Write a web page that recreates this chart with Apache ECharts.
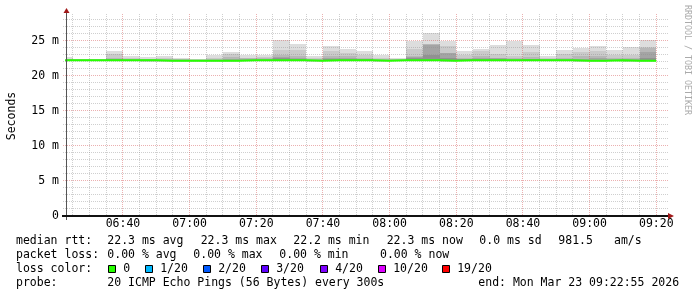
<!DOCTYPE html>
<html>
<head>
<meta charset="utf-8">
<script src="https://cdn.jsdelivr.net/npm/echarts@6.0.0/dist/echarts.min.js"></script>
<style>
html,body{margin:0;padding:0;background:#ffffff;}
#chart{width:697px;height:297px;}
</style>
</head>
<body>
<div id="chart"></div>
<script>
// ---------------- data ----------------
const startClock = '06:22:55';
const endClock = '09:22:55';
const stepSeconds = 300;
const yMax = 28.57;

const stepStarts = ['06:20','06:25','06:30','06:35','06:40','06:45','06:50','06:55','07:00','07:05',
  '07:10','07:15','07:20','07:25','07:30','07:35','07:40','07:45','07:50','07:55',
  '08:00','08:05','08:10','08:15','08:20','08:25','08:30','08:35','08:40','08:45',
  '08:50','08:55','09:00','09:05','09:10','09:15'];

// median rtt (ms) per 5-minute step
const medianRtt = [22.26,22.26,22.26,22.26,22.26,22.26,22.16,22.16,22.16,22.16,
  22.16,22.26,22.26,22.26,22.26,22.16,22.26,22.26,22.26,22.16,
  22.26,22.26,22.26,22.16,22.26,22.26,22.26,22.26,22.26,22.26,
  22.26,22.16,22.16,22.26,22.16,22.16];

// smoke: sorted ping values (ms), outermost to innermost
const pingMax = [22.65,22.45,22.45,23.62,22.81,22.66,22.81,22.57,22.45,22.95,
  23.43,23.0,23.0,25.14,24.57,22.81,24.28,23.9,23.57,23.0,
  22.55,24.95,26.14,24.95,23.57,23.9,24.43,24.95,24.43,22.81,
  23.76,24.05,24.33,23.71,24.14,25.14];
const ping19 = [22.45,22.38,22.38,23.19,22.5,22.45,22.5,22.4,22.38,22.55,
  23.14,22.6,22.65,23.7,23.65,22.5,23.5,23.3,23.0,22.6,
  22.4,23.9,24.6,24.25,23.05,23.5,23.15,22.8,23.45,22.5,
  23.15,23.43,23.52,23.05,23.05,24.2];
const ping18 = [22.42,22.36,22.36,22.6,22.45,22.42,22.4,22.36,22.3,22.45,
  22.7,22.5,22.5,23.0,22.8,22.38,22.8,22.8,22.6,22.4,
  22.36,22.9,24.5,23.35,22.6,22.8,22.6,22.55,22.7,22.42,
  22.6,22.8,22.8,22.6,22.6,24.0];
const ping17 = [22.36,22.33,22.33,22.45,22.38,22.36,22.3,22.28,22.26,22.32,
  22.45,22.4,22.42,22.7,22.6,22.3,22.6,22.5,22.45,22.3,
  22.32,22.7,24.4,23.3,22.45,22.5,22.5,22.42,22.45,22.36,
  22.42,22.45,22.5,22.42,22.4,23.4];
const ping16 = [22.32,22.3,22.3,22.38,22.33,22.32,22.25,22.24,22.22,22.26,
  22.32,22.33,22.35,22.5,22.45,22.24,22.45,22.38,22.36,22.25,
  22.3,22.55,23.0,22.6,22.36,22.38,22.42,22.35,22.36,22.32,
  22.34,22.3,22.32,22.34,22.3,22.6];
const pingLow = [22.2,22.2,22.22,22.2,22.2,22.12,22.1,22.1,22.1,22.12,
  22.12,22.2,22.22,22.2,22.2,22.1,22.2,22.22,22.2,22.1,
  22.22,22.2,22.22,22.1,22.2,22.2,22.2,22.22,22.2,22.2,
  22.2,22.1,22.1,22.2,22.1,22.1];
const pingMin = [22.12,22.15,22.15,22.12,22.12,21.95,22.05,22.05,22.05,22.05,
  22.05,22.12,22.15,22.1,22.12,22.05,22.12,22.15,22.12,22.05,
  22.15,22.12,22.15,22.02,22.12,22.12,22.12,22.15,22.12,22.12,
  22.12,22.05,22.05,22.12,22.05,22.05];

const yTickValues = [0,5,10,15,20,25];
const yTickLabels = ['0','5 m','10 m','15 m','20 m','25 m'];
const xTickLabels = ['06:40','07:00','07:20','07:40','08:00','08:20','08:40','09:00','09:20'];

const lossLabels = ['0','1/20','2/20','3/20','4/20','10/20','19/20'];
const lossColors = ['#26ff00','#00b8ff','#0059ff','#5e00ff','#7e00ff','#dd00ff','#ff0000'];

const statRows = [
  ['median rtt:','22.3 ms avg','22.3 ms max','22.2 ms min','22.3 ms now','0.0 ms sd','981.5','am/s'],
  ['packet loss:','0.00 % avg','0.00 % max','0.00 % min','0.00 % now'],
  ['loss color:'],
  ['probe:','20 ICMP Echo Pings (56 Bytes) every 300s','end: Mon Mar 23 09:22:55 2026']
];

// ---------------- layout ----------------
const MONO = '"DejaVu Sans Mono", monospace';
const FS = 11.5;
const statX = [
  [16,107.3,200.7,293.3,386.7,479.3,558.3,614],
  [16,107.3,193.3,279.3,380],
  [16],
  [16,107.3,478.3]
];
const statY = [241,255,269,283];
const lossBoxX = [108.5,145.5,203.5,261.5,320.5,378.5,442.5];

function toSec(s){const p=s.split(':');return (+p[0])*3600+(+p[1])*60+(p[2]?+p[2]:0);}
const startTime = toSec(startClock);
const endTime = toSec(endClock);
const xTickSecs = xTickLabels.map(toSec);

const bandHighs = [pingMax, ping19, ping18, ping17, ping16];
const bandLows = [pingMin, pingLow, pingLow, pingLow, pingLow];
const bandColors = ['#dddddd','#cacaca','#b7b7b7','#a4a4a4','#919191'];

const smokeData = [];
bandHighs.forEach(function(highs, b){
  stepStarts.forEach(function(s, i){
    const t = toSec(s);
    smokeData.push([Math.max(t, startTime), t + stepSeconds, bandLows[b][i], highs[i], b]);
  });
});

const medianData = stepStarts.map(function(s,i){return [toSec(s), medianRtt[i]];});
medianData.push([toSec(stepStarts[stepStarts.length-1]) + stepSeconds, medianRtt[medianRtt.length-1]]);

function smokeItem(params, api){
  const p0 = api.coord([api.value(0), api.value(3)]);
  const p1 = api.coord([api.value(1), api.value(2)]);
  const x0 = Math.round(p0[0]), x1 = Math.round(p1[0]);
  const y0 = Math.round(p0[1]), y1 = Math.round(p1[1]);
  return {type:'rect', shape:{x:x0, y:y0, width:x1-x0, height:Math.max(0,y1-y0)},
    style:{fill:bandColors[api.value(4)]}};
}

function gridItem(params, api){
  const children = [];
  const o = api.coord([startTime, 0]);
  const r = api.coord([endTime, 0]);
  const tp = api.coord([startTime, yMax]);
  const minorC = 'rgba(140,140,140,0.42)';
  const majorC = 'rgba(210,80,80,0.45)';
  for (let v = 1; v < yMax; v++) {
    const y = Math.floor(api.coord([startTime, v])[1]) + 0.5;
    const major = (v % 5 === 0);
    children.push({type:'line', shape:{x1:o[0]-3, y1:y, x2:r[0]+2, y2:y},
      style:{stroke: major ? majorC : minorC, lineWidth:1, lineDash:[1,1]}});
  }
  for (let t = toSec(stepStarts[1]); t <= endTime; t += stepSeconds) {
    const x = Math.floor(api.coord([t, 0])[0]) + 0.5;
    const major = xTickSecs.indexOf(t) >= 0;
    children.push({type:'line', shape:{x1:x, y1:tp[1]-2, x2:x, y2:o[1]},
      style:{stroke: major ? majorC : minorC, lineWidth:1, lineDash:[1,1]}});
  }
  return {type:'group', children:children};
}

function axesItem(params, api){
  const o = api.coord([startTime, 0]);
  const r = api.coord([endTime, 0]);
  const tp = api.coord([startTime, yMax]);
  const ax = o[0] + 0.5;
  const arrowC = '#a01818';
  return {type:'group', children:[
    {type:'line', shape:{x1:ax, y1:o[1]+4, x2:ax, y2:tp[1]-3}, style:{stroke:'#555555', lineWidth:1}},
    {type:'line', shape:{x1:o[0]-4, y1:o[1], x2:r[0]+2, y2:o[1]}, style:{stroke:'#111111', lineWidth:2}},
    {type:'polygon', shape:{points:[[ax-3,tp[1]-3],[ax+3,tp[1]-3],[ax,tp[1]-8]]}, style:{fill:arrowC}},
    {type:'polygon', shape:{points:[[r[0]+2,o[1]-3],[r[0]+2,o[1]+3],[r[0]+8,o[1]]]}, style:{fill:arrowC}}
  ]};
}

// ---------------- graphics (legend / watermark) ----------------
const graphics = [];
function addText(x, y, t){
  graphics.push({type:'text', x:x, y:y, silent:true,
    style:{text:t, font: FS + 'px ' + MONO, fill:'#000000',
      align:'left', verticalAlign:'middle', textAlign:'left', textVerticalAlign:'middle'}});
}
statRows.forEach(function(row, r){
  row.forEach(function(t, k){ addText(statX[r][k], statY[r], t); });
});
lossLabels.forEach(function(lbl, i){
  graphics.push({type:'rect', silent:true, shape:{x:lossBoxX[i], y:265.5, width:7, height:7},
    style:{fill:lossColors[i], stroke:'#000000', lineWidth:1}});
  addText(lossBoxX[i] + 14.7, statY[2], lbl);
});
graphics.push({type:'text', x:687.5, y:60, rotation:-Math.PI/2, silent:true,
  style:{text:'RRDTOOL / TOBI OETIKER', font:'8.3px ' + MONO, fill:'#aaaaaa',
    align:'center', verticalAlign:'middle', textAlign:'center', textVerticalAlign:'middle'}});

// ---------------- chart ----------------
const chart = echarts.init(document.getElementById('chart'), null, {renderer:'canvas'});
chart.setOption({
  animation:false,
  backgroundColor:'#ffffff',
  textStyle:{fontFamily:MONO},
  grid:{left:66, top:16, width:600, height:200, containLabel:false, outerBoundsMode:'none'},
  xAxis:{type:'value', min:startTime, max:endTime,
    axisLine:{show:false}, axisTick:{show:false}, splitLine:{show:false},
    axisLabel:{customValues:xTickSecs, hideOverlap:false,
      formatter:function(v){const i=xTickSecs.indexOf(v);return i>=0?xTickLabels[i]:'';},
      fontFamily:MONO, fontSize:FS, color:'#000000', margin:2}},
  yAxis:{type:'value', min:0, max:yMax, interval:5,
    axisLine:{show:false}, axisTick:{show:false}, splitLine:{show:false},
    axisLabel:{showMaxLabel:false,
      formatter:function(v){const i=yTickValues.indexOf(v);return i>=0?yTickLabels[i]:'';},
      fontFamily:MONO, fontSize:FS, color:'#000000', margin:7},
    name:'Seconds', nameLocation:'middle', nameGap:48, nameRotate:90,
    nameTextStyle:{fontFamily:MONO, fontSize:FS, color:'#000000'}},
  series:[
    {type:'custom', name:'smoke', z:1, silent:true, renderItem:smokeItem, data:smokeData, encode:{x:[0,1], y:[2,3]}},
    {type:'custom', name:'grid', z:2, silent:true, renderItem:gridItem, data:[[startTime,0]]},
    {type:'line', name:'median rtt', z:3, step:'end', symbol:'none', showSymbol:false, silent:true,
      data:medianData, lineStyle:{color:'#26ff00', width:2}},
    {type:'custom', name:'axes', z:4, silent:true, renderItem:axesItem, data:[[startTime,0]]}
  ],
  graphic:graphics
});
</script>
</body>
</html>
